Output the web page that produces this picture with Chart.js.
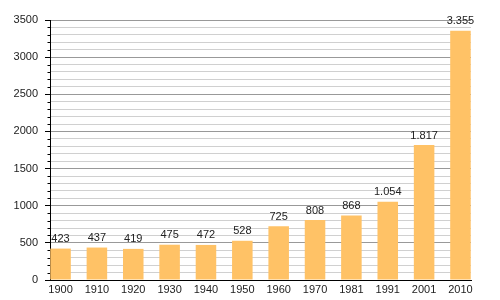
<!DOCTYPE html>
<html>
<head>
<meta charset="utf-8">
<script src="https://cdn.jsdelivr.net/npm/chart.js@4"></script>
<style>
  html, body { margin: 0; padding: 0; background: #fff; }
  #wrap { width: 500px; height: 300px; }
</style>
</head>
<body>
<div id="wrap"><canvas id="popChart" width="500" height="300"></canvas></div>
<script>
// years along the x-axis
const years = ["1900", "1910", "1920", "1930", "1940", "1950", "1960", "1970", "1981", "1991", "2001", "2010"];
// population per census
const population = [423, 437, 419, 475, 472, 528, 725, 808, 868, 1054, 1817, 3355];
// y-axis labelled ticks
const yLabels = [0, 500, 1000, 1500, 2000, 2500, 3000, 3500];

const fontFamily = "'Liberation Sans', Arial, sans-serif";

// 1054 -> "1.054"
const fmt = (v) => String(v).replace(/\B(?=(\d{3})+(?!\d))/g, ".");

const isMajor = (v) => yLabels.includes(v);

// value above each bar + the short minor tick marks on the y axis
const extras = {
  id: "extras",
  afterDatasetsDraw(chart) {
    const ctx = chart.ctx;
    const y = chart.scales.y;
    ctx.save();
    ctx.strokeStyle = "#000";
    ctx.lineWidth = 1;
    ctx.beginPath();
    y.ticks.forEach((t) => {
      if (isMajor(t.value)) return;
      const py = Math.round(y.getPixelForValue(t.value)) + 0.5;
      ctx.moveTo(y.right - 2.5, py);
      ctx.lineTo(y.right, py);
    });
    ctx.stroke();

    ctx.font = "11px " + fontFamily;
    ctx.fillStyle = "#222";
    ctx.textAlign = "center";
    ctx.textBaseline = "bottom";
    chart.getDatasetMeta(0).data.forEach((bar, i) => {
      ctx.fillText(fmt(population[i]), bar.x, bar.y - 4);
    });
    ctx.restore();
  },
};

new Chart(document.getElementById("popChart"), {
  type: "bar",
  data: {
    datasets: [
      {
        data: population.map((v, i) => ({ x: i, y: v })),
        backgroundColor: "#ffc266",
        barPercentage: 0.565,
        categoryPercentage: 1,
      },
    ],
  },
  options: {
    responsive: false,
    animation: false,
    layout: { padding: { top: 20, right: 29, left: 0, bottom: 0 } },
    plugins: { legend: { display: false }, tooltip: { enabled: false } },
    scales: {
      x: {
        type: "linear",
        offset: false,
        min: -0.29,
        max: 11.29,
        afterBuildTicks: (s) => {
          s.ticks = years.map((_, i) => ({ value: i }));
        },
        afterFit: (s) => {
          s.height = 20;
        },
        grid: { display: false, offset: false, drawTicks: false, tickLength: 0 },
        border: { color: "#000", width: 1 },
        ticks: {
          padding: 3,
          color: "#222",
          font: { family: fontFamily, size: 11 },
          maxRotation: 0,
          autoSkip: false,
          callback: (v) => years[v],
        },
      },
      y: {
        min: 0,
        max: 3500,
        afterFit: (s) => {
          s.width = 50;
        },
        border: { color: "#000", width: 1 },
        grid: {
          color: (c) => (isMajor(c.tick.value) ? "#999999" : "#d0d0d0"),
          tickColor: (c) => (isMajor(c.tick.value) ? "#000" : "rgba(0,0,0,0)"),
          tickLength: 5,
        },
        ticks: {
          stepSize: 100,
          padding: 7,
          color: "#222",
          font: { family: fontFamily, size: 11 },
          autoSkip: false,
          callback: (v) => (isMajor(v) ? v : ""),
        },
      },
    },
  },
  plugins: [extras],
});
</script>
</body>
</html>
